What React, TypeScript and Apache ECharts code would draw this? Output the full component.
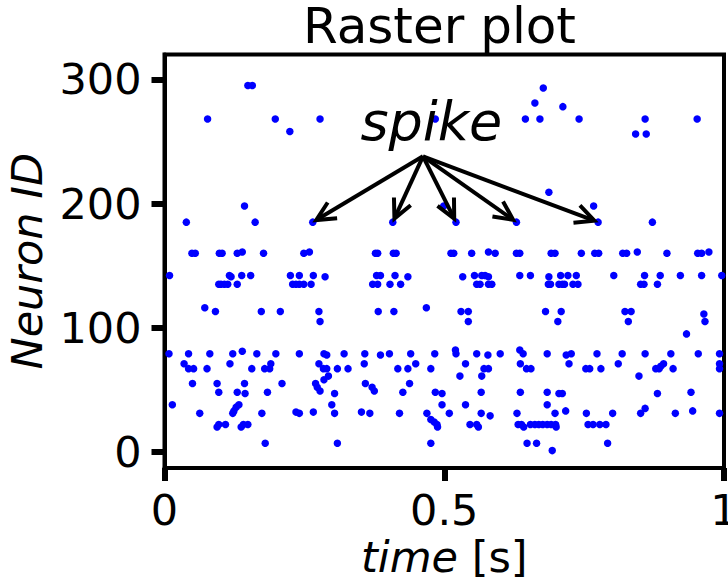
import React, { useEffect, useRef } from 'react';
import * as echarts from 'echarts';

// Neuron ids (rows) and the spike times (s) recorded on each row
const neuronIds = [295, 293, 281, 278, 268, 258, 256, 209, 198, 185, 161, 160, 142, 141, 135, 116, 113, 111, 105, 95, 82, 81, 79, 78, 71, 69, 67, 61, 58, 55, 52, 49, 48, 47, 38, 36, 35, 33, 32, 31, 29, 26, 24, 22, 20, 7, 1];
const spikeTimes: number[][] = [
  [0.149, 0.157],
  [0.677],
  [0.662],
  [0.712],
  [0.077, 0.198, 0.278, 0.484, 0.645, 0.671, 0.741, 0.859, 0.952],
  [0.224],
  [0.842, 0.861],
  [0.687],
  [0.143, 0.499, 0.767],
  [0.039, 0.162, 0.265, 0.408, 0.521, 0.629, 0.775, 0.872],
  [0.139, 0.259, 0.579, 0.845, 0.973],
  [0.049, 0.055, 0.098, 0.103, 0.130, 0.177, 0.249, 0.377, 0.381, 0.409, 0.414, 0.512, 0.517, 0.549, 0.591, 0.629, 0.635, 0.691, 0.698, 0.745, 0.769, 0.776, 0.819, 0.826, 0.898, 0.953, 0.960],
  [0.009, 0.116, 0.138, 0.154, 0.225, 0.241, 0.266, 0.379, 0.386, 0.412, 0.554, 0.567, 0.573, 0.635, 0.654, 0.708, 0.721, 0.736, 0.803, 0.858, 0.886, 0.922, 0.960, 0.996],
  [0.119, 0.287, 0.435, 0.533, 0.579, 0.687],
  [0.097, 0.101, 0.107, 0.113, 0.130, 0.229, 0.235, 0.241, 0.249, 0.262, 0.372, 0.381, 0.403, 0.422, 0.558, 0.564, 0.579, 0.585, 0.686, 0.690, 0.705, 0.711, 0.715, 0.730, 0.739, 0.851, 0.857, 0.881],
  [0.072, 0.468],
  [0.091, 0.173, 0.207, 0.276, 0.382, 0.410, 0.530, 0.543, 0.681, 0.709, 0.823, 0.834],
  [0.964],
  [0.278, 0.543, 0.703, 0.829, 0.966],
  [0.933],
  [0.520, 0.635],
  [0.139],
  [0.008, 0.043, 0.081, 0.122, 0.165, 0.199, 0.241, 0.285, 0.321, 0.358, 0.402, 0.440, 0.483, 0.521, 0.558, 0.600, 0.641, 0.684, 0.727, 0.773, 0.818, 0.859, 0.905, 0.954, 0.992],
  [0.290, 0.386, 0.578, 0.718],
  [0.035, 0.117, 0.190, 0.276, 0.357, 0.449, 0.538, 0.636, 0.723, 0.811, 0.892, 0.992],
  [0.887],
  [0.043, 0.052, 0.076, 0.156, 0.179, 0.188, 0.284, 0.290, 0.309, 0.328, 0.417, 0.435, 0.476, 0.571, 0.579, 0.647, 0.655, 0.753, 0.760, 0.780, 0.878, 0.884, 0.909, 0.992],
  [0.293, 0.528, 0.567, 0.848],
  [0.285],
  [0.050, 0.094, 0.143, 0.210, 0.270, 0.359, 0.438],
  [0.273, 0.371],
  [0.278, 0.375],
  [0.097, 0.130, 0.184, 0.426, 0.484, 0.566, 0.636, 0.684, 0.941],
  [0.144, 0.304, 0.496, 0.705, 0.711, 0.881],
  [0.014, 0.133, 0.299, 0.496, 0.538, 0.684],
  [0.128],
  [0.859],
  [0.124, 0.717, 0.944],
  [0.235, 0.266, 0.352],
  [0.063, 0.122, 0.174, 0.241, 0.304, 0.367, 0.420, 0.469, 0.509, 0.566, 0.630, 0.698, 0.754, 0.801, 0.851, 0.913, 0.992],
  [0.582],
  [0.476],
  [0.482],
  [0.097, 0.109, 0.141, 0.149, 0.487, 0.546, 0.558, 0.632, 0.638, 0.654, 0.662, 0.669, 0.676, 0.684, 0.691, 0.699, 0.757, 0.766, 0.778, 0.789],
  [0.094, 0.137, 0.488, 0.561, 0.642, 0.700],
  [0.180, 0.309, 0.476, 0.648, 0.665, 0.792],
  [0.693],
];

const xTicks = [0, 0.5, 1];
const yTicks = [0, 100, 200, 300];
const xRange = [0, 1];
const yRange = [-13, 320];

// Annotation: arrows from the "spike" label to spikes of neuron 185
const annotatedNeuron = 185;
const annotatedSpikeTimes = [0.265, 0.408, 0.521, 0.629, 0.775];
const arrowOrigin = [0.462, 238];
const spikeLabelAt = [0.477, 266];

const FONT = 'DejaVu Sans';

export default function App() {
  const ref = useRef<HTMLDivElement>(null);
  useEffect(() => {
    if (!ref.current) return;
    const chart = echarts.init(ref.current, undefined, { renderer: 'svg' });
    const points: number[][] = [];
    neuronIds.forEach((id, i) => spikeTimes[i].forEach((t) => points.push([t, id])));

    chart.setOption({
      animation: false,
      backgroundColor: '#ffffff',
      title: {
        text: 'Raster plot',
        left: 303,
        top: 1,
        padding: 0,
        textStyle: { fontFamily: FONT, fontSize: 50, lineHeight: 50, fontWeight: 'normal', color: '#000' },
      },
      grid: {
        left: 164.5,
        right: 4,
        top: 54.5,
        bottom: 114,
        show: true,
        borderColor: '#000',
        borderWidth: 4,
        backgroundColor: 'transparent',
        containLabel: false,
        outerBoundsMode: 'none',
      },
      xAxis: {
        type: 'value',
        min: xRange[0],
        max: xRange[1],
        name: '{it|time} [s]',
        nameLocation: 'middle',
        nameGap: 57,
        nameTextStyle: {
          fontFamily: FONT,
          fontSize: 43,
          color: '#000',
          rich: { it: { fontFamily: FONT, fontSize: 43, fontStyle: 'italic', color: '#000' } },
        },
        axisLine: { show: true, onZero: false, lineStyle: { color: '#000', width: 4 } },
        axisTick: { show: true, customValues: xTicks, length: 13, lineStyle: { color: '#000', width: 6 } },
        axisLabel: {
          customValues: xTicks,
          margin: 20,
          fontFamily: FONT,
          fontSize: 43,
          color: '#000',
          hideOverlap: false,
          formatter: (v: number) => String(v),
        },
        splitLine: { show: false },
      },
      yAxis: {
        type: 'value',
        min: yRange[0],
        max: yRange[1],
        name: 'Neuron ID',
        nameLocation: 'middle',
        nameRotate: 90,
        nameGap: 108,
        nameTextStyle: { fontFamily: FONT, fontSize: 43, fontStyle: 'italic', color: '#000' },
        axisLine: { show: true, onZero: false, lineStyle: { color: '#000', width: 4 } },
        axisTick: { show: true, customValues: yTicks, length: 13, lineStyle: { color: '#000', width: 6 } },
        axisLabel: {
          customValues: yTicks,
          margin: 23,
          fontFamily: FONT,
          fontSize: 43,
          color: '#000',
        },
        splitLine: { show: false },
      },
      series: [
        {
          type: 'scatter',
          data: points,
          symbol: 'circle',
          symbolSize: 7.5,
          itemStyle: { color: '#0000ff', opacity: 1 },
          clip: false,
          z: 2,
        },
      ],
    });

    // Arrows and label built from data coordinates
    const o = chart.convertToPixel({ gridIndex: 0 }, arrowOrigin) as number[];
    const lab = chart.convertToPixel({ gridIndex: 0 }, spikeLabelAt) as number[];
    const graphics: any[] = [];
    const head = 21;
    const ang = (26 * Math.PI) / 180;
    annotatedSpikeTimes.forEach((t) => {
      const p = chart.convertToPixel({ gridIndex: 0 }, [t, annotatedNeuron]) as number[];
      const dx = p[0] - o[0];
      const dy = p[1] - o[1];
      const len = Math.sqrt(dx * dx + dy * dy);
      const ux = dx / len;
      const uy = dy / len;
      const tip = [p[0] - ux * 4, p[1] - uy * 4];
      const back = Math.atan2(-uy, -ux);
      const a1 = [tip[0] + head * Math.cos(back + ang), tip[1] + head * Math.sin(back + ang)];
      const a2 = [tip[0] + head * Math.cos(back - ang), tip[1] + head * Math.sin(back - ang)];
      graphics.push({
        type: 'line',
        z: 10,
        shape: { x1: o[0], y1: o[1], x2: tip[0] - ux * 1.5, y2: tip[1] - uy * 1.5 },
        style: { stroke: '#000', lineWidth: 4 },
      });
      graphics.push({
        type: 'polyline',
        z: 10,
        shape: { points: [a1, tip, a2] },
        style: { stroke: '#000', lineWidth: 4, fill: null, lineJoin: 'miter' },
      });
    });
    graphics.push({
      type: 'text',
      z: 11,
      x: lab[0],
      y: lab[1],
      style: {
        text: 'spike',
        fontFamily: FONT,
        fontSize: 54,
        fontStyle: 'italic',
        fill: '#000',
        textAlign: 'center',
        textVerticalAlign: 'middle',
      },
    });
    chart.setOption({ graphic: graphics });

    return () => chart.dispose();
  }, []);

  return (
    <div
      ref={ref}
      style={{ position: 'fixed', left: 0, top: 0, width: 728, height: 582, background: '#fff' }}
    />
  );
}
